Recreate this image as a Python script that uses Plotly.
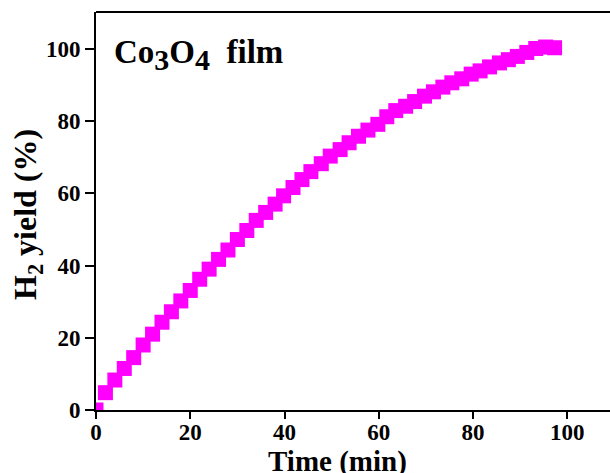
import plotly.graph_objects as go

time_min = [0, 2, 4, 6, 8, 10, 12, 14, 16, 18, 20, 22, 24, 26, 28, 30, 32, 34, 36, 38,
            39.8, 41.8, 43.7, 45.6, 47.8, 49.7, 51.8, 53.7, 55.7, 57.7,
            59.8, 61.7, 63.6, 65.7, 67.6, 69.7, 71.6, 73.6, 75.5, 77.6,
            79.6, 81.5, 83.5, 85.6, 87.5, 89.4, 91.4, 93.3, 95.4, 97.3]
h2_yield = [0, 4.8, 8.3, 11.5, 14.5, 18, 21, 24.3, 27.2, 30.2, 33.1, 36.2, 39, 41.7, 44.3,
            47.2, 49.7, 52.5, 54.7, 57, 59.3, 61.6, 63.8, 66, 68.2, 70.3, 72.1, 74, 75.8, 77.5,
            79.1, 81.2, 82.9, 84.1, 85.4, 86.9, 88.1, 89.4, 90.6, 91.7,
            93.0, 93.9, 95.0, 96.1, 97.0, 97.9, 99.0, 100.1, 100.5, 100.3]
x_ticks = [0, 20, 40, 60, 80, 100]
y_ticks = [0, 20, 40, 60, 80, 100]

FONT = "Liberation Serif"
W, H = 610, 473
ml, mt, mr, mb = 96, 12, 0, 63
pw = W - ml - mr
ph = H - mt - mb
x_max = pw / 4.713
y_max = 110.2

fig = go.Figure()
fig.add_trace(go.Scatter(
    x=time_min, y=h2_yield, mode="markers",
    marker=dict(symbol="square", size=15, color="#FF00FF", line=dict(width=0)),
    showlegend=False,
))
fig.add_trace(go.Scatter(x=[None], y=[None], xaxis="x2", yaxis="y", showlegend=False,
                         hoverinfo="skip"))

tickfont = dict(family=FONT, size=23, color="black", weight="bold")
fig.update_layout(
    xaxis=dict(range=[0, x_max], tickvals=x_ticks, showgrid=False, zeroline=False,
               showline=True, linecolor="black", linewidth=2, mirror=False,
               ticks="", ticklabelstandoff=0, tickfont=tickfont),
    xaxis2=dict(range=[0, x_max], tickvals=x_ticks, overlaying="x", matches="x",
                anchor="y", side="bottom", showgrid=False, zeroline=False,
                showline=False, showticklabels=False,
                ticks="outside", ticklen=8, tickwidth=2, tickcolor="black"),
    yaxis=dict(range=[0, y_max], tickvals=y_ticks, showgrid=False, zeroline=False,
               showline=True, linecolor="black", linewidth=2, mirror=False,
               ticks="outside", ticklen=9, tickwidth=2, tickcolor="black",
               tickfont=tickfont),
)

# white strip over the right plot edge (the frame is open on that side in the reference)
fig.add_shape(type="rect", xref="paper", yref="paper", x0=1 - 6 / pw, x1=1.0,
              y0=0.004, y1=0.996, fillcolor="white", line=dict(width=0), layer="above")
# top frame line
fig.add_shape(type="line", xref="paper", yref="paper", x0=0, x1=1, y0=1, y1=1,
              line=dict(color="black", width=2), layer="above")

fig.add_annotation(
    text="<b>Time (min)</b>", xref="paper", yref="paper",
    x=(337 - ml) / pw, y=-(461 - mt - ph) / ph, xanchor="center", yanchor="middle",
    showarrow=False, font=dict(family=FONT, size=29, color="black"),
)
fig.add_annotation(
    text="<b>H<sub>2</sub> yield (%)</b>", xref="paper", yref="paper",
    x=-(ml - 27) / pw, y=(H - mb - 215) / ph, xanchor="center", yanchor="middle",
    textangle=-90, showarrow=False, font=dict(family=FONT, size=32, color="black"),
)
fig.add_annotation(
    text=("<b>Co<sub><span style='font-size:30px'>3</span></sub>"
          "O<sub><span style='font-size:30px'>4</span></sub>  film</b>"),
    xref="paper", yref="paper",
    x=(112 - ml) / pw, y=(H - mb - 55) / ph, xanchor="left", yanchor="middle",
    showarrow=False, font=dict(family=FONT, size=33, color="black"),
)

fig.update_layout(
    width=W, height=H, margin=dict(l=ml, r=mr, t=mt, b=mb),
    paper_bgcolor="white", plot_bgcolor="white", dragmode=False, hovermode=False,
)
fig.write_html("out.html", config={"displayModeBar": False, "staticPlot": True})

with open("out.html", "r", encoding="utf-8") as f:
    html = f.read()
html = html.replace("<head>", "<head><style>html,body{margin:0;padding:0;overflow:hidden;}</style>", 1)
with open("out.html", "w", encoding="utf-8") as f:
    f.write(html)
